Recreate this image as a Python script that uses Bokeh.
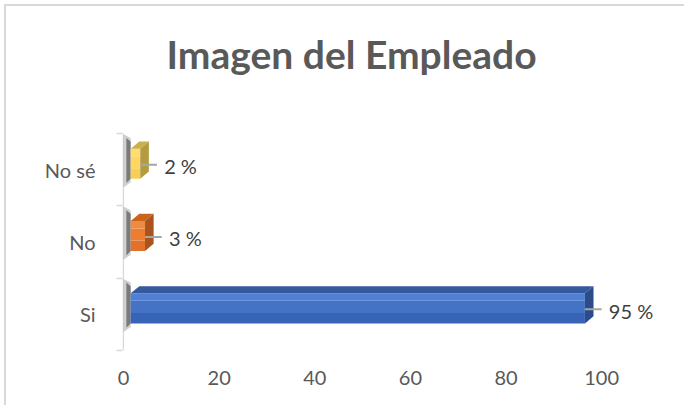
from bokeh.plotting import figure
from bokeh.models import Range1d, FixedTicker, ColumnDataSource
from bokeh.embed import file_html
from bokeh.resources import INLINE
from bokeh.core.properties import value

# ---- data ----
categories = ["Si", "No", "No sé"]
values = [95, 3, 2]
x_ticks = [0, 20, 40, 60, 80, 100]
title_text = "Imagen del Empleado"

# ---- styling / geometry ----
front_cols = ["#4472C4", "#ED7D31", "#FFD75E"]
front_light = ["#5080D3", "#F08A40", "#FFDD70"]
front_dark = ["#3864B8", "#E2722B", "#F7CF57"]
top_cols = ["#36599E", "#C9641F", "#CDB04A"]
side_cols = ["#2C4B8A", "#A9541E", "#B49B3E"]
D, DX, DY = 1.5, 1.8, 0.1
FT, FB = 0.29, 0.125
n = len(categories)
Y_TOP = n + 1.7566   # extra room above the bars for the title

p = figure(width=680, height=401, output_backend="svg", toolbar_location=None,
           x_range=Range1d(-0.21, 114.4), y_range=Range1d(0, Y_TOP),
           min_border_left=116, min_border_right=16, min_border_top=0,
           min_border_bottom=57)
p.styles = {"margin-left": "4px", "margin-top": "4px",
            "border-top": "2px solid #D9D9D9", "border-left": "2px solid #D9D9D9"}
p.outline_line_color = None
p.xgrid.grid_line_color = None
p.ygrid.grid_line_color = None
p.background_fill_color = "white"
p.border_fill_color = "white"

font = value("Lato")
centers = [i + 0.5 for i in range(n)]

# title
p.text(x=[47.7], y=[n + 1.1], text=[title_text], text_font=font, text_font_style="bold",
       text_font_size="39px", text_color="#595959", text_align="center",
       text_baseline="alphabetic")

# category axis line
p.segment(x0=[-0.05], x1=[-0.05], y0=[0], y1=[n], line_color="#D9D9D9", line_width=1.5)

for i, (c, v) in enumerate(zip(centers, values)):
    t, b = c + FT, c - FB
    # shadow at left end
    p.patch([0.0, D, D, 0.0], [b - 0.12, b - 0.05, t + DY + 0.05, t + DY + 0.1],
            color="#777777", alpha=0.35, line_color=None)
    p.patch([0.6, D, D, 0.6], [b - 0.06, b, t + DY, t + DY + 0.05],
            color="#333333", alpha=0.55, line_color=None)
    # front face with banded gradient
    h = t - b
    p.quad(left=D, right=v + D, bottom=b, top=b + h * 0.35, color=front_dark[i], line_color=None)
    p.quad(left=D, right=v + D, bottom=b + h * 0.35, top=b + h * 0.75, color=front_cols[i], line_color=None)
    p.quad(left=D, right=v + D, bottom=b + h * 0.75, top=t, color=front_light[i], line_color=None)
    # top face
    p.patch([D, v + D, v + D + DX, D + DX], [t, t, t + DY, t + DY],
            color=top_cols[i], line_color=None)
    # side face
    p.patch([v + D, v + D, v + D + DX, v + D + DX], [b, t, t + DY, b + DY],
            color=side_cols[i], line_color=None)

# leader lines and data labels
src = ColumnDataSource(dict(
    x0=[v + D for v in values],
    x1=[v + D + 3.5 for v in values],
    ly=[c + 0.07 for c in centers],
    tx=[v + D + 5 for v in values],
    ty=[c + 0.05 for c in centers],
    txt=[f"{v} %" for v in values],
))
p.segment(x0="x0", x1="x1", y0="ly", y1="ly", source=src, line_color="#A6A6A6", line_width=2)
p.text(x="tx", y="ty", text="txt", source=src, text_font=font, text_font_size="20px",
       text_color="#404040", text_baseline="middle", text_align="left")

# axes
ya = p.yaxis[0]
ya.ticker = FixedTicker(ticks=centers, minor_ticks=list(range(n + 1)))
ya.major_label_overrides = {c: cat for c, cat in zip(centers, categories)}
ya.major_tick_line_color = None
ya.major_tick_out = 0
ya.major_tick_in = 0
ya.minor_tick_line_color = "#D9D9D9"
ya.minor_tick_line_width = 1.5
ya.minor_tick_out = 6
ya.minor_tick_in = 0
ya.axis_line_color = None
ya.major_label_standoff = 21
ya.major_label_text_font = "Lato"
ya.major_label_text_font_size = "20px"
ya.major_label_text_color = "#595959"

xa = p.xaxis[0]
xa.ticker = FixedTicker(ticks=x_ticks)
xa.axis_line_color = None
xa.major_tick_line_color = None
xa.minor_tick_line_color = None
xa.major_tick_out = 0
xa.major_tick_in = 0
xa.major_label_standoff = 20
xa.major_label_text_font = "Lato"
xa.major_label_text_font_size = "20px"
xa.major_label_text_color = "#595959"

open("out.html", "w").write(file_html(p, INLINE))
